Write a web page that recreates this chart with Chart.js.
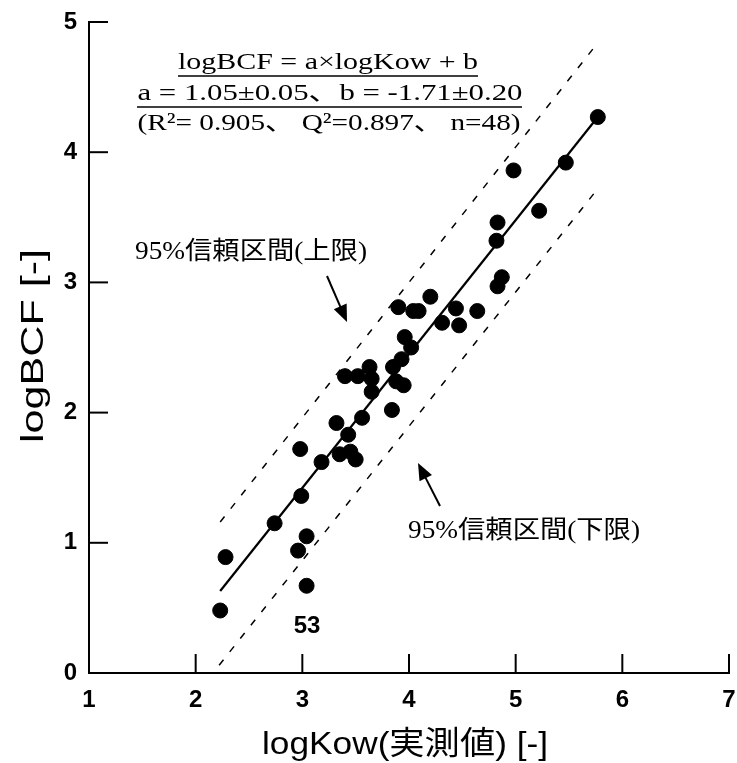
<!DOCTYPE html>
<html>
<head>
<meta charset="utf-8">
<script src="https://cdn.jsdelivr.net/npm/chart.js@4/dist/chart.umd.min.js"></script>
<style>
  html,body{margin:0;padding:0;background:#fff;}
  #wrap{width:737px;height:763px;position:relative;}
</style>
</head>
<body>
<div id="wrap"><canvas id="c" width="737" height="763"></canvas></div>
<script>
// ---- data ----
const logKow = [5.77,5.47,4.98,5.22,4.83,4.82,4.87,4.83,4.20,3.90,4.04,4.09,4.44,4.64,4.31,4.47,3.96,4.02,3.93,3.85,3.40,3.52,3.63,3.65,3.65,3.88,3.95,3.84,3.56,3.32,3.43,2.98,3.18,3.35,3.45,3.50,2.99,2.74,3.04,2.96,2.28,3.04,2.23];
const logBCF = [4.27,3.92,3.86,3.55,3.46,3.32,3.04,2.97,2.89,2.81,2.78,2.78,2.80,2.78,2.69,2.67,2.58,2.50,2.41,2.35,2.28,2.28,2.35,2.26,2.16,2.24,2.21,2.02,1.96,1.92,1.83,1.72,1.62,1.68,1.70,1.64,1.36,1.15,1.05,0.94,0.89,0.67,0.48];
// regression line and 95% band end points (logKow, logBCF)
const fitX = [2.23, 5.77];
const fitY = [0.63, 4.27];
const upperX = [2.23, 5.76];
const upperY = [1.16, 4.83];
const lowerX = [2.22, 5.77];
const lowerY = [0.06, 3.72];
const xTicks = [1,2,3,4,5,6,7];
const yTicks = [0,1,2,3,4,5];
const xTitle = 'logKow(実測値) [-]';
const yTitle = 'logBCF [-]';
const eqLines = ['logBCF = a×logKow + b', 'a = 1.05±0.05、b = -1.71±0.20', '(R²= 0.905、 Q²=0.897、 n=48)'];
const upperLabel = '95%信頼区間(上限)';
const lowerLabel = '95%信頼区間(下限)';
const outlierLabel = '53';

const pts = logKow.map((x,i)=>({x:x, y:logBCF[i]}));
const toXY = (xs,ys)=>xs.map((x,i)=>({x:x,y:ys[i]}));

const SANS = '"Liberation Sans", Arial, "Noto Sans CJK JP", sans-serif';
const NARROW = '"Liberation Sans Narrow", "Liberation Sans", Arial, sans-serif';
const SERIF = '"Liberation Serif", "DejaVu Serif", "Noto Sans CJK JP", serif';
const CJK = '"Liberation Sans", "Noto Sans CJK JP", sans-serif';

function drawFitted(ctx, text, cx, cy, font, targetW, rot){
  ctx.save();
  ctx.font = font;
  const w = ctx.measureText(text).width;
  const sx = targetW / w;
  ctx.translate(cx, cy);
  if (rot) ctx.rotate(rot);
  ctx.scale(sx, 1);
  ctx.textAlign = 'center';
  ctx.textBaseline = 'middle';
  ctx.fillStyle = '#000';
  ctx.fillText(text, 0, 0);
  ctx.restore();
}
function arrow(ctx, x0,y0,x1,y1){
  const ang = Math.atan2(y1-y0, x1-x0);
  const hl = 17, hw = 7;
  ctx.save();
  ctx.strokeStyle = '#000'; ctx.fillStyle = '#000'; ctx.lineWidth = 2;
  ctx.beginPath(); ctx.moveTo(x0,y0);
  ctx.lineTo(x1 - Math.cos(ang)*hl*0.8, y1 - Math.sin(ang)*hl*0.8); ctx.stroke();
  ctx.beginPath();
  ctx.moveTo(x1,y1);
  ctx.lineTo(x1 - Math.cos(ang)*hl + Math.sin(ang)*hw, y1 - Math.sin(ang)*hl - Math.cos(ang)*hw);
  ctx.lineTo(x1 - Math.cos(ang)*hl - Math.sin(ang)*hw, y1 - Math.sin(ang)*hl + Math.cos(ang)*hw);
  ctx.closePath(); ctx.fill();
  ctx.restore();
}

const decor = {
  id: 'decor',
  afterDraw(chart){
    const ctx = chart.ctx, ca = chart.chartArea;
    const xs = chart.scales.x, ys = chart.scales.y;
    ctx.save();
    ctx.strokeStyle = '#000'; ctx.lineWidth = 2;
    // inner tick marks
    xTicks.slice(1).forEach(v=>{
      const px = xs.getPixelForValue(v);
      ctx.beginPath(); ctx.moveTo(px, ca.bottom); ctx.lineTo(px, ca.bottom-19); ctx.stroke();
    });
    yTicks.slice(1).forEach(v=>{
      const py = ys.getPixelForValue(v);
      ctx.beginPath(); ctx.moveTo(ca.left, py); ctx.lineTo(ca.left+19, py); ctx.stroke();
    });
    ctx.restore();
    // axis titles
    drawFitted(ctx, xTitle, 405, 745, '32px ' + CJK, 286);
    drawFitted(ctx, yTitle, 34, 346, '32px ' + SANS, 194, -Math.PI/2);
    // equation block
    const f = '24px ' + SERIF;
    drawFitted(ctx, eqLines[0], 328, 63, f, 300);
    drawFitted(ctx, eqLines[1], 330, 94, f, 385);
    drawFitted(ctx, eqLines[2], 329, 124, f, 383);
    ctx.save(); ctx.strokeStyle='#000'; ctx.lineWidth=1.5;
    ctx.beginPath(); ctx.moveTo(178,76); ctx.lineTo(478,76); ctx.stroke();
    ctx.beginPath(); ctx.moveTo(137,107); ctx.lineTo(522,107); ctx.stroke();
    ctx.restore();
    // band labels
    drawFitted(ctx, upperLabel, 251, 252, '25px ' + SERIF, 232);
    drawFitted(ctx, lowerLabel, 524, 531, '25px ' + SERIF, 232);
    arrow(ctx, 327, 276, 347, 322);
    arrow(ctx, 440, 506, 418, 463);
    // outlier id
    ctx.save();
    ctx.font = 'bold 24px ' + SANS; ctx.fillStyle='#000';
    ctx.textAlign='center'; ctx.textBaseline='middle';
    ctx.fillText(outlierLabel, 307, 626);
    ctx.restore();
  }
};

new Chart(document.getElementById('c'), {
  type: 'scatter',
  data: {
    datasets: [
      {label:'data', data: pts, backgroundColor:'#000', borderColor:'#000', pointRadius:7.5, pointHoverRadius:7.5, showLine:false, order:1},
      {label:'fit', data: toXY(fitX, fitY), showLine:true, borderColor:'#000', borderWidth:2.2, pointRadius:0, order:2},
      {label:'upper', data: toXY(upperX, upperY), showLine:true, borderColor:'#000', borderWidth:1.5, borderDash:[7,10], pointRadius:0, order:3},
      {label:'lower', data: toXY(lowerX, lowerY), showLine:true, borderColor:'#000', borderWidth:1.5, borderDash:[7,10], pointRadius:0, order:3}
    ]
  },
  options: {
    responsive:false, animation:false,
    layout:{autoPadding:false, padding:{left:0,right:8,top:22,bottom:0}},
    plugins:{legend:{display:false}, tooltip:{enabled:false}},
    scales:{
      x:{
        type:'linear', min:1, max:7,
        afterBuildTicks: s=>{ s.ticks = xTicks.map(v=>({value:v})); },
        afterFit: s=>{ s.height = 90; s.paddingLeft = 0; s.paddingRight = 0; },
        grid:{display:false, drawTicks:false},
        border:{display:true, color:'#000', width:2},
        ticks:{color:'#000', padding:13, font:{family:NARROW, size:24, weight:'bold'}},
        title:{display:false}
      },
      y:{
        type:'linear', min:0, max:5,
        afterBuildTicks: s=>{ s.ticks = yTicks.map(v=>({value:v})); },
        afterFit: s=>{ s.width = 89; s.paddingTop = 0; s.paddingBottom = 0; },
        grid:{display:false, drawTicks:false},
        border:{display:true, color:'#000', width:2},
        ticks:{color:'#000', padding:12, font:{family:NARROW, size:24, weight:'bold'}},
        title:{display:false}
      }
    }
  },
  plugins:[decor]
});
</script>
</body>
</html>
